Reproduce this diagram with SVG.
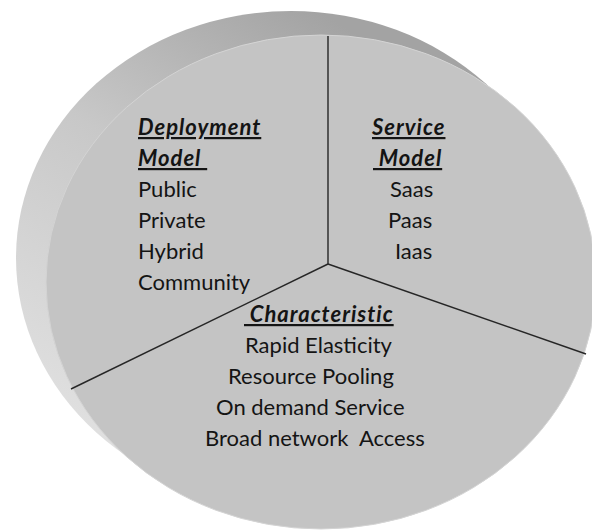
<svg xmlns="http://www.w3.org/2000/svg" width="592" height="531" viewBox="0 0 592 531">
<defs>
<linearGradient id="side" x1="0.55" y1="0" x2="0.02" y2="0.78">
<stop offset="0" stop-color="#a3a3a3"/>
<stop offset="0.45" stop-color="#c8c8c8"/>
<stop offset="1" stop-color="#e0e0e0"/>
</linearGradient>
</defs>
<style>
.t{font-family:Lato,"Liberation Sans",sans-serif;font-size:22px;fill:#141414;white-space:pre}
.h{font-weight:bold;font-style:italic;text-decoration:underline;letter-spacing:1px}
.spoke{stroke:#262626;stroke-width:1.4;fill:none}
</style>
<rect width="592" height="531" fill="#ffffff"/>
<g id="disc">
<ellipse cx="291" cy="258" rx="275" ry="247" fill="url(#side)"/>
<ellipse cx="321" cy="282" rx="275" ry="247" fill="#c4c4c4" stroke="#d4d4d4" stroke-width="1"/>
</g>
<g id="connectors">
<line class="spoke" x1="328" y1="36" x2="328" y2="264"/>
<line class="spoke" x1="328" y1="264" x2="71" y2="389"/>
<line class="spoke" x1="328" y1="264" x2="586" y2="354"/>
</g>
<g id="deployment">
<text class="t h" x="138" y="135">Deployment</text>
<text class="t h" x="138" y="166">Model </text>
<text class="t" x="138" y="197">Public</text>
<text class="t" x="138" y="228">Private</text>
<text class="t" x="138" y="259">Hybrid</text>
<text class="t" x="138" y="290">Community</text>
</g>
<g id="service">
<text class="t h" x="372" y="135">Service</text>
<text class="t h" x="373" y="166"> Model</text>
<text class="t" x="390" y="197">Saas</text>
<text class="t" x="388" y="228">Paas</text>
<text class="t" x="395" y="259">Iaas</text>
</g>
<g id="characteristic">
<text class="t h" x="244" y="322"> Characteristic</text>
<text class="t" x="245" y="353">Rapid Elasticity</text>
<text class="t" x="228" y="384">Resource Pooling</text>
<text class="t" x="216" y="415">On demand Service</text>
<text class="t" x="205" y="446">Broad network  Access</text>
</g>
</svg>
